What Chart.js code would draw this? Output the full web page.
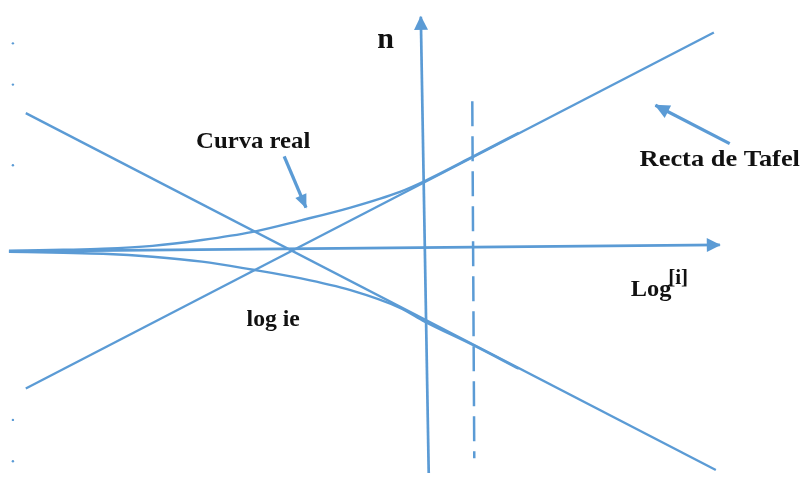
<!DOCTYPE html>
<html>
<head>
<meta charset="utf-8">
<title>Recta de Tafel</title>
<script src="https://cdn.jsdelivr.net/npm/chart.js@4.4.1/dist/chart.umd.min.js"></script>
<style>
    html, body { margin:0; padding:0; background:#fff; }
    canvas { display:block; }
</style>
</head>
<body>
<canvas id="tafelChart" width="804" height="477"></canvas>
<script>
// x = log|i| (0 at log ie), y = overpotential n
const logI = [-2.87, -2.32, -1.92, -1.42, -0.92, -0.42, 0.08, 0.58, 1.08, 1.33, 1.82, 2.28];
const etaAnodic = [0, 0.01, 0.02, 0.05, 0.11, 0.19, 0.31, 0.44, 0.60, 0.71, 0.96, 1.20];
const etaCathodic = [-0.01, -0.02, -0.03, -0.06, -0.11, -0.19, -0.28, -0.40, -0.58, -0.72, -0.96, -1.20];

// Tafel straight lines
const tafelAnodicX = [-2.70, 4.25];
const tafelAnodicY = [-1.40, 2.22];
const tafelCathodicX = [-2.70, 4.27];
const tafelCathodicY = [1.40, -2.23];

// axes and the dashed marker
const axisLogX = [-2.87, 4.31];
const axisLogY = [-0.005, 0.06];
const axisEtaX = [1.37, 1.29];
const axisEtaY = [-2.26, 2.38];
const dashedX = [1.81, 1.83];
const dashedY = [1.52, -2.11];

// pointer arrows for the labels
const curvaArrowX = [-0.09, 0.13];
const curvaArrowY = [0.96, 0.44];
const tafelArrowX = [4.41, 3.66];
const tafelArrowY = [1.09, 1.48];

// stray tick dots on the left edge
const dotX = [-2.83, -2.83, -2.83, -2.83, -2.83];
const dotY = [2.11, 1.69, 0.87, -1.72, -2.14];

const BLUE = '#5b9bd5';
const SERIF = '"Liberation Serif", "Times New Roman", serif';

function pts(xs, ys){
    return xs.map((x,i)=>({x:x, y:ys[i]}));
}

function lineSet(xs, ys, extra){
    return Object.assign({
        data: pts(xs, ys),
        borderColor: BLUE,
        borderWidth: 2.4,
        pointRadius: 0,
        fill: false,
        tension: 0
    }, extra || {});
}

const labels = [
    {text:'Curva real', x:-0.98, y:1.05, size:24, stretch:1.03},
    {text:'Recta de Tafel', x:3.50, y:0.86, size:24, stretch:1.1},
    {text:'n', x:0.85, y:2.06, size:30, stretch:1},
    {text:'log ie', x:-0.47, y:-0.76, size:23, stretch:1.03},
    {text:'Log', x:3.41, y:-0.46, size:23, stretch:1.06, sup:'[i]'}
];

// arrowheads at the last point of flagged datasets, plus the text labels
const decorations = {
    id: 'decorations',
    afterDatasetsDraw(chart){
        const ctx = chart.ctx;
        chart.data.datasets.forEach((ds,i)=>{
            if(!ds.arrow) return;
            const d = chart.getDatasetMeta(i).data;
            const a = d[d.length-2], b = d[d.length-1];
            const ang = Math.atan2(b.y-a.y, b.x-a.x);
            const L = ds.arrow.len, W = ds.arrow.half;
            ctx.save();
            ctx.translate(b.x, b.y);
            ctx.rotate(ang);
            ctx.fillStyle = BLUE;
            ctx.beginPath();
            ctx.moveTo(1, 0);
            ctx.lineTo(-L, -W);
            ctx.lineTo(-L, W);
            ctx.closePath();
            ctx.fill();
            ctx.restore();
        });

        const xs = chart.scales.x, ys = chart.scales.y;
        labels.forEach(l=>{
            const px = xs.getPixelForValue(l.x);
            const py = ys.getPixelForValue(l.y);
            ctx.save();
            ctx.fillStyle = '#111';
            ctx.textBaseline = 'alphabetic';
            ctx.textAlign = 'left';
            ctx.translate(px, py);
            ctx.scale(l.stretch, 1);
            ctx.font = 'bold ' + l.size + 'px ' + SERIF;
            ctx.fillText(l.text, 0, 0);
            if(l.sup){
                const w = ctx.measureText(l.text).width;
                ctx.font = 'bold 20px ' + SERIF;
                ctx.fillText(l.sup, w - 3, -12);
            }
            ctx.restore();
        });
    }
};

new Chart(document.getElementById('tafelChart'), {
    type: 'line',
    data: {
        datasets: [
            lineSet(axisLogX, axisLogY, {borderWidth:2.7, arrow:{len:13, half:7}}),
            lineSet(axisEtaX, axisEtaY, {borderWidth:2.7, arrow:{len:13, half:7}}),
            lineSet(dashedX, dashedY, {borderWidth:2.5, borderDash:[25,10]}),
            lineSet(tafelAnodicX, tafelAnodicY),
            lineSet(tafelCathodicX, tafelCathodicY),
            lineSet(logI, etaAnodic, {cubicInterpolationMode:'monotone'}),
            lineSet(logI, etaCathodic, {cubicInterpolationMode:'monotone'}),
            lineSet(curvaArrowX, curvaArrowY, {borderWidth:3.3, arrow:{len:13, half:6}}),
            lineSet(tafelArrowX, tafelArrowY, {borderWidth:3.3, arrow:{len:14, half:7}}),
            {
                data: pts(dotX, dotY),
                showLine: false,
                pointRadius: 1.2,
                pointBackgroundColor: BLUE,
                pointBorderWidth: 0
            }
        ]
    },
    options: {
        responsive: false,
        animation: false,
        layout: { padding: 0 },
        plugins: {
            legend: { display:false },
            tooltip: { enabled:false }
        },
        scales: {
            x: { type:'linear', min:-2.92, max:5.12, display:false },
            y: { type:'linear', min:-2.26, max:2.51, display:false }
        }
    },
    plugins: [decorations]
});
</script>
</body>
</html>
